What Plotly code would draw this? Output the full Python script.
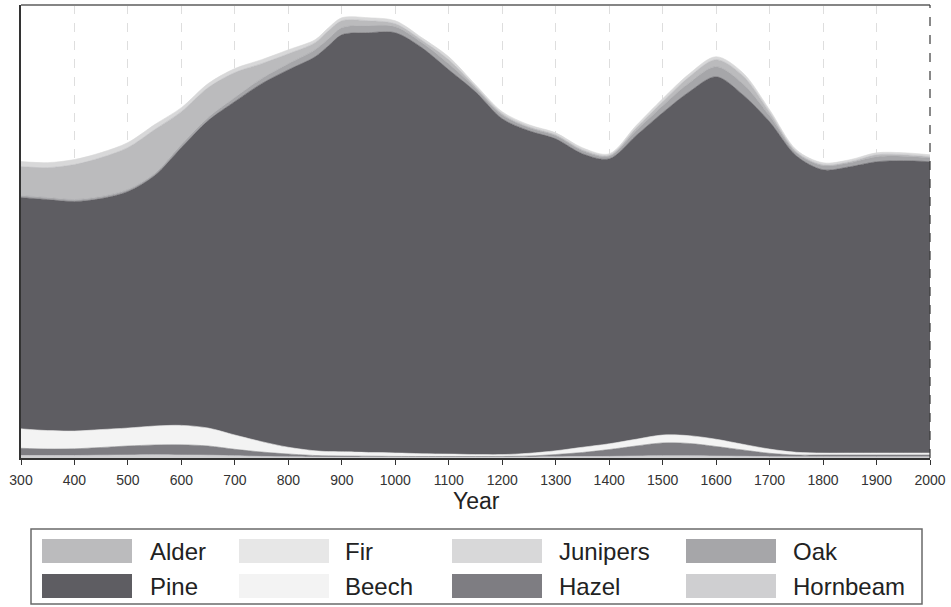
import plotly.graph_objects as go

# Years of the reconstruction (x axis)
years = [300, 350, 400, 450, 500, 550, 600, 650, 700, 750, 800, 850, 875, 900,
         950, 1000, 1050, 1100, 1150, 1200, 1250, 1300, 1350, 1400, 1450,
         1500, 1550, 1600, 1650, 1700, 1750, 1800, 1850, 1900, 1950, 2000]

# Taxon shares (stacked, bottom to top)
hornbeam = [0.55, 0.55, 0.55, 0.62, 0.66, 0.71, 0.66, 0.62, 0.49, 0.35, 0.26, 0.22, 0.22, 0.22,
            0.22, 0.22, 0.22, 0.22, 0.22, 0.22, 0.22, 0.26, 0.31, 0.35, 0.44,
            0.49, 0.49, 0.44, 0.38, 0.29, 0.26, 0.26, 0.26, 0.26, 0.26, 0.26]
hazel = [1.59, 1.43, 1.48, 1.70, 1.99, 2.16, 2.25, 2.03, 1.43, 0.97, 0.62, 0.33, 0.26, 0.22,
         0.18, 0.13, 0.11, 0.11, 0.11, 0.13, 0.22, 0.51, 0.91, 1.52, 2.21,
         2.83, 2.72, 2.10, 1.39, 0.75, 0.40, 0.40, 0.40, 0.40, 0.40, 0.40]
beech = [4.19, 3.97, 3.82, 3.86, 3.86, 4.08, 4.19, 3.86, 3.05, 2.21, 1.43, 0.99, 0.88, 0.88,
         0.77, 0.71, 0.57, 0.49, 0.38, 0.35, 0.55, 0.77, 1.10, 1.21, 1.43,
         1.70, 1.66, 1.55, 1.21, 0.88, 0.55, 0.38, 0.38, 0.38, 0.38, 0.38]
fir = [0.10, 0.10, 0.10, 0.10, 0.10, 0.10, 0.10, 0.10, 0.10, 0.08, 0.06, 0.05, 0.05, 0.05,
       0.05, 0.05, 0.05, 0.05, 0.05, 0.05, 0.05, 0.05, 0.05, 0.05, 0.05,
       0.05, 0.05, 0.05, 0.05, 0.05, 0.05, 0.05, 0.05, 0.05, 0.05, 0.05]
pine = [51.06, 50.99, 50.66, 50.99, 52.21, 55.30, 61.32, 67.88, 73.62, 79.03, 83.33, 86.98, 89.58, 92.05,
        92.65, 92.76, 89.60, 84.83, 80.09, 74.13, 71.19, 68.87, 64.79, 62.91, 67.00,
        71.15, 75.94, 80.02, 77.15, 72.25, 65.45, 62.54, 63.20, 64.30, 64.53, 64.30]
oak = [0.44, 0.44, 0.44, 0.44, 0.44, 0.44, 0.66, 0.66, 0.88, 1.10, 1.32, 1.55, 1.55, 1.55,
       1.55, 1.32, 1.10, 1.32, 0.77, 0.77, 0.66, 0.66, 0.66, 0.55, 1.10,
       1.55, 1.99, 2.21, 2.43, 1.32, 0.66, 0.88, 0.88, 1.10, 0.99, 0.88]
alder = [6.40, 6.62, 7.73, 8.61, 9.27, 9.71, 7.28, 6.62, 5.52, 3.31, 2.21, 1.55, 1.77, 1.55,
         1.10, 0.66, 0.55, 0.88, 0.33, 0.33, 0.22, 0.22, 0.22, 0.22, 0.55,
         0.88, 1.32, 1.55, 1.77, 0.77, 0.22, 0.22, 0.22, 0.44, 0.33, 0.22]
junipers = [1.10, 1.10, 1.10, 1.10, 1.10, 1.10, 0.88, 0.88, 0.88, 0.88, 0.88, 0.66, 0.66, 0.66,
            0.66, 0.66, 0.55, 0.66, 0.44, 0.44, 0.44, 0.44, 0.44, 0.33, 0.55,
            0.66, 0.66, 0.66, 0.66, 0.55, 0.44, 0.44, 0.44, 0.44, 0.44, 0.44]

x_ticks = list(range(300, 2001, 100))

colors = {
    "Alder": "#bbbbbd",
    "Pine": "#5e5d62",
    "Fir": "#e7e7e7",
    "Beech": "#f3f3f3",
    "Junipers": "#d8d8d9",
    "Hazel": "#7e7d82",
    "Oak": "#a6a6a9",
    "Hornbeam": "#cfcfd1",
}

stack = [("Hornbeam", hornbeam), ("Hazel", hazel), ("Beech", beech), ("Fir", fir),
         ("Pine", pine), ("Oak", oak), ("Alder", alder), ("Junipers", junipers)]

fig = go.Figure()
for name, vals in stack:
    fig.add_trace(go.Scatter(
        x=years, y=vals, name=name, mode="lines", stackgroup="pollen",
        line=dict(color=colors[name], width=0.6, shape="spline", smoothing=0.9),
        fillcolor=colors[name], showlegend=False, hoverinfo="x+y+name",
    ))

W, H = 951, 607
ML, MR, MT, MB = 21, 21, 5, 149
PW, PH = W - ML - MR, H - MT - MB


def px(xp):
    return (xp - ML) / PW


def py(yp):
    return (H - MB - yp) / PH


shapes = [
    # top frame line
    dict(type="line", xref="paper", yref="paper", x0=0, x1=1, y0=1, y1=1,
         line=dict(color="#858585", width=2)),
    # right frame line (dashed)
    dict(type="line", xref="paper", yref="paper", x0=1, x1=1, y0=0, y1=1,
         line=dict(color="#3a3a3a", width=1.2, dash="dash")),
    # legend box
    dict(type="rect", xref="paper", yref="paper", x0=px(31), x1=px(922),
         y0=py(604), y1=py(529), line=dict(color="#6a6a6a", width=1.5),
         fillcolor="rgba(0,0,0,0)"),
]

annotations = [
    dict(text="Year", xref="paper", yref="paper", x=px(476), y=py(501),
         xanchor="center", yanchor="middle", showarrow=False,
         font=dict(size=23, color="#222222")),
]

# Legend laid out in two rows of four columns
legend_rows = [["Alder", "Fir", "Junipers", "Oak"],
               ["Pine", "Beech", "Hazel", "Hornbeam"]]
sw_left = [42, 239, 452, 686]
sw_width = 90
lbl_left = [148, 343, 557, 791]
row_top = [539, 574]
sw_height = 24
for r, row in enumerate(legend_rows):
    for c, name in enumerate(row):
        shapes.append(dict(type="rect", xref="paper", yref="paper",
                           x0=px(sw_left[c]), x1=px(sw_left[c] + sw_width),
                           y0=py(row_top[r] + sw_height), y1=py(row_top[r]),
                           line=dict(width=0), fillcolor=colors[name]))
        annotations.append(dict(text=name, xref="paper", yref="paper",
                                x=px(lbl_left[c]), y=py(row_top[r] + sw_height / 2),
                                xanchor="left", yanchor="middle", showarrow=False,
                                font=dict(size=24, color="#222222")))

fig.update_layout(
    width=W, height=H,
    margin=dict(l=ML, r=MR, t=MT, b=MB, pad=0),
    paper_bgcolor="white", plot_bgcolor="white",
    font=dict(family="Liberation Sans, Arial, sans-serif", color="#222222"),
    shapes=shapes, annotations=annotations,
    xaxis=dict(range=[300, 2000], tickvals=x_ticks, ticktext=[str(t) for t in x_ticks],
               ticks="outside", ticklen=5, tickwidth=1.2, tickcolor="#333333",
               ticklabelstandoff=3,
               showline=True, linecolor="#333333", linewidth=1.5,
               showgrid=True, gridcolor="#dedede", griddash="dash", gridwidth=1,
               tickfont=dict(size=14, color="#333333"), zeroline=False),
    yaxis=dict(range=[0, 100], showticklabels=False, ticks="", showgrid=False,
               zeroline=False, showline=True, linecolor="#333333", linewidth=1.5),
    showlegend=False,
)

fig.write_html("out.html")
